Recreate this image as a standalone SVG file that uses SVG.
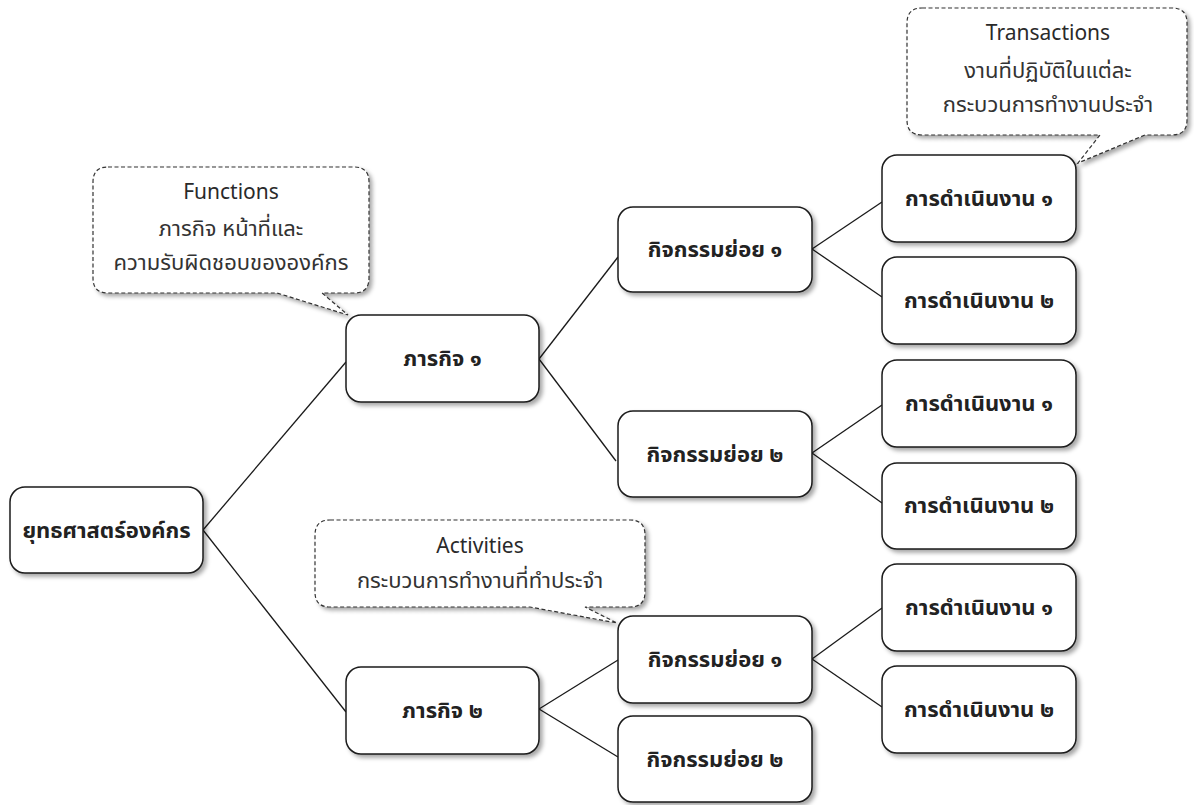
<svg xmlns="http://www.w3.org/2000/svg" width="1194" height="805" viewBox="0 0 1194 805">
  <style>
    .box { fill: #ffffff; stroke: #1a1a1a; stroke-width: 1.5; }
    .note { fill: #ffffff; stroke: #333333; stroke-width: 1.2; stroke-dasharray: 4 2.5; }
    .label { font-family: "Noto Sans Thai", "Noto Sans", "Liberation Sans", sans-serif; font-size: 22px; font-weight: bold; fill: #222222; text-anchor: middle; }
    .head { font-family: "Noto Sans", "Liberation Sans", sans-serif; font-size: 21px; fill: #2a2a2a; text-anchor: middle; }
    .sub { font-family: "Noto Sans Thai", "Noto Sans", "Liberation Sans", sans-serif; font-size: 22px; fill: #333333; text-anchor: middle; }
    .link { fill: none; stroke: #1a1a1a; stroke-width: 1.3; }
  </style>
  <defs>
    <filter id="shadow" x="-10%" y="-10%" width="125%" height="130%">
      <feDropShadow dx="3" dy="3" stdDeviation="2" flood-color="#000000" flood-opacity="0.35"/>
    </filter>
  </defs>

  <rect width="1194" height="805" fill="#ffffff"/>

  <!-- connectors -->
  <g id="connectors">
    <line class="link" x1="203" y1="530" x2="346" y2="362"/>
    <line class="link" x1="203" y1="530" x2="346" y2="712"/>
    <line class="link" x1="539" y1="359" x2="618" y2="257"/>
    <line class="link" x1="539" y1="359" x2="616" y2="461"/>
    <line class="link" x1="539" y1="709" x2="618" y2="660"/>
    <line class="link" x1="539" y1="709" x2="618" y2="757"/>
    <line class="link" x1="812" y1="249" x2="882" y2="202"/>
    <line class="link" x1="812" y1="249" x2="882" y2="297"/>
    <line class="link" x1="812" y1="453" x2="882" y2="405"/>
    <line class="link" x1="812" y1="453" x2="882" y2="503"/>
    <line class="link" x1="812" y1="659" x2="882" y2="608"/>
    <line class="link" x1="812" y1="659" x2="882" y2="707"/>
  </g>

  <!-- callouts -->
  <g id="note-functions">
    <path class="note" filter="url(#shadow)" d="M108,167 H354 Q369,167 369,182 V278 Q369,293 354,293 H322 L348,315 L277,293 H108 Q93,293 93,278 V182 Q93,167 108,167 Z"/>
    <text class="head" x="231" y="199">Functions</text>
    <text class="sub" x="231" y="236">ภารกิจ หน้าที่และ</text>
    <text class="sub" x="231" y="270">ความรับผิดชอบขององค์กร</text>
  </g>

  <g id="note-transactions">
    <path class="note" filter="url(#shadow)" d="M922,8 H1172 Q1187,8 1187,23 V120 Q1187,135 1172,135 H1145 L1078,163 L1100,135 H922 Q907,135 907,120 V23 Q907,8 922,8 Z"/>
    <text class="head" x="1048" y="40">Transactions</text>
    <text class="sub" x="1048" y="78">งานที่ปฏิบัติในแต่ละ</text>
    <text class="sub" x="1048" y="112">กระบวนการทำงานประจำ</text>
  </g>

  <g id="note-activities">
    <path class="note" filter="url(#shadow)" d="M330,520 H630 Q645,520 645,535 V592 Q645,607 630,607 H585 L617,623 L530,607 H330 Q315,607 315,592 V535 Q315,520 330,520 Z"/>
    <text class="head" x="480" y="553">Activities</text>
    <text class="sub" x="480" y="588">กระบวนการทำงานที่ทำประจำ</text>
  </g>

  <!-- nodes -->
  <g id="node-strategy">
    <rect class="box" filter="url(#shadow)" x="10" y="487" width="193" height="86" rx="15"/>
    <text class="label" x="106.5" y="538">ยุทธศาสตร์องค์กร</text>
  </g>

  <g id="node-mission-1">
    <rect class="box" filter="url(#shadow)" x="346" y="315" width="193" height="87" rx="15"/>
    <text class="label" x="442.5" y="366">ภารกิจ ๑</text>
  </g>

  <g id="node-mission-2">
    <rect class="box" filter="url(#shadow)" x="346" y="667" width="193" height="87" rx="15"/>
    <text class="label" x="442.5" y="718">ภารกิจ ๒</text>
  </g>

  <g id="node-activity-1a">
    <rect class="box" filter="url(#shadow)" x="618" y="207" width="194" height="85" rx="15"/>
    <text class="label" x="715" y="257">กิจกรรมย่อย ๑</text>
  </g>

  <g id="node-activity-2a">
    <rect class="box" filter="url(#shadow)" x="618" y="411" width="194" height="86" rx="15"/>
    <text class="label" x="715" y="462">กิจกรรมย่อย ๒</text>
  </g>

  <g id="node-activity-1b">
    <rect class="box" filter="url(#shadow)" x="618" y="616" width="194" height="87" rx="15"/>
    <text class="label" x="715" y="667">กิจกรรมย่อย ๑</text>
  </g>

  <g id="node-activity-2b">
    <rect class="box" filter="url(#shadow)" x="618" y="716" width="194" height="86" rx="15"/>
    <text class="label" x="715" y="767">กิจกรรมย่อย ๒</text>
  </g>

  <g id="node-task-1a">
    <rect class="box" filter="url(#shadow)" x="882" y="155" width="194" height="87" rx="15"/>
    <text class="label" x="979" y="206">การดำเนินงาน ๑</text>
  </g>

  <g id="node-task-2a">
    <rect class="box" filter="url(#shadow)" x="882" y="257" width="194" height="87" rx="15"/>
    <text class="label" x="979" y="308">การดำเนินงาน ๒</text>
  </g>

  <g id="node-task-1b">
    <rect class="box" filter="url(#shadow)" x="882" y="360" width="194" height="87" rx="15"/>
    <text class="label" x="979" y="411">การดำเนินงาน ๑</text>
  </g>

  <g id="node-task-2b">
    <rect class="box" filter="url(#shadow)" x="882" y="463" width="194" height="86" rx="15"/>
    <text class="label" x="979" y="513">การดำเนินงาน ๒</text>
  </g>

  <g id="node-task-1c">
    <rect class="box" filter="url(#shadow)" x="882" y="564" width="194" height="87" rx="15"/>
    <text class="label" x="979" y="615">การดำเนินงาน ๑</text>
  </g>

  <g id="node-task-2c">
    <rect class="box" filter="url(#shadow)" x="882" y="666" width="194" height="87" rx="15"/>
    <text class="label" x="979" y="717">การดำเนินงาน ๒</text>
  </g>
</svg>
